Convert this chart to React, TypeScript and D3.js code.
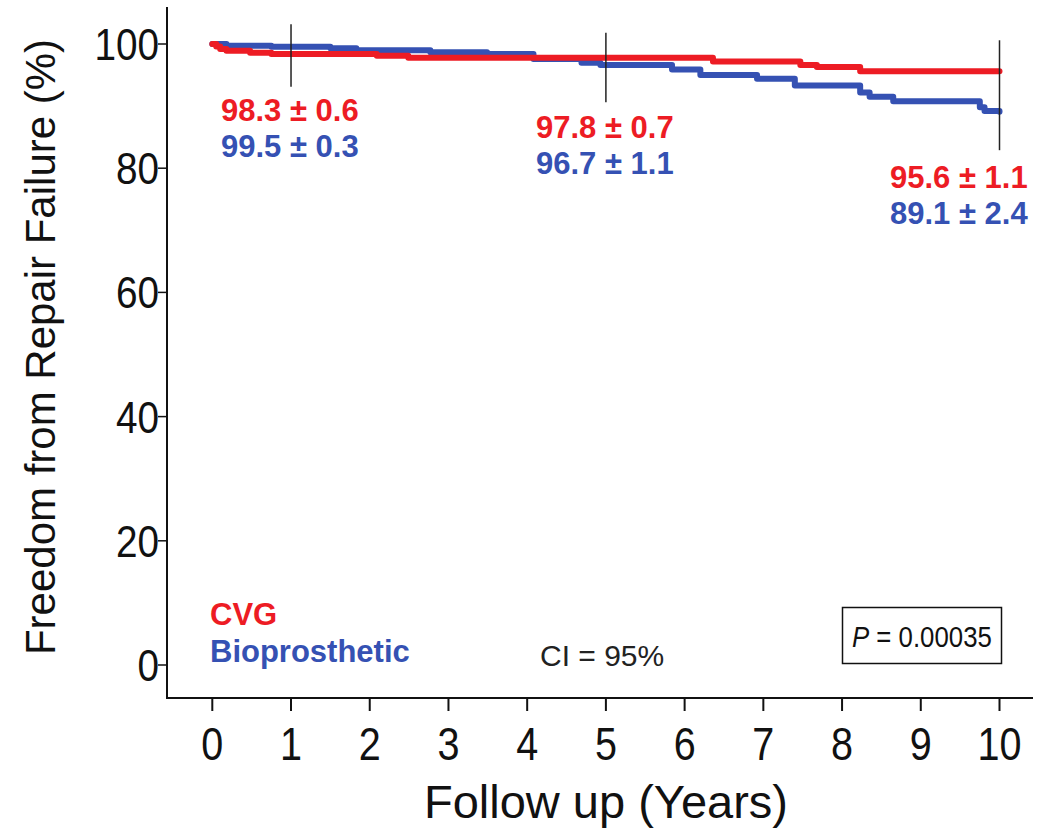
import * as d3 from "d3";

const W = 1038;
const H = 835;

// Kaplan-Meier steps: [years, freedom %]
const cvgTimes = [0, 0.05, 0.1, 0.18, 0.48, 0.75, 2.09, 2.49, 6.36, 7.47, 7.68, 8.23, 10];
const cvgValues = [100, 99.6, 99.2, 98.9, 98.6, 98.4, 98.1, 97.8, 97.2, 96.6, 96.3, 95.6, 95.6];

const bioTimes = [0, 0.18, 0.75, 1.5, 1.83, 2.77, 3.49, 4.08, 4.69, 4.93, 5.84, 6.2, 6.92, 7.4, 8.23, 8.35, 8.65, 9.75, 9.81, 10];
const bioValues = [100, 99.7, 99.55, 99.3, 99.0, 98.66, 98.4, 97.6, 97.0, 96.6, 95.9, 95.0, 94.4, 93.3, 92.2, 91.5, 90.8, 89.8, 89.2, 89.1];

// vertical interval bars at 1, 5 and 10 years: [year, low %, high %]
const barYears = [1, 5, 10];
const barLow = [93.1, 90.6, 82.9];
const barHigh = [103.2, 101.8, 100.6];

// annotations
const cvgLabels = ["98.3 ± 0.6", "97.8 ± 0.7", "95.6 ± 1.1"];
const bioLabels = ["99.5 ± 0.3", "96.7 ± 1.1", "89.1 ± 2.4"];

const xTicks = [0, 1, 2, 3, 4, 5, 6, 7, 8, 9, 10];
const yTicks = [0, 20, 40, 60, 80, 100];

const RED = "#ed1c24";
const BLUE = "#3551b3";
const FONT = "Liberation Sans, Arial, sans-serif";

export default function App() {
  const x = d3.scaleLinear().domain([0, 10]).range([212.3, 999.5]);
  const y = d3.scaleLinear().domain([0, 100]).range([665, 44]);

  const axisLeft = 167;
  const axisBottom = 698;

  const line = d3
    .line<[number, number]>()
    .x((d) => x(d[0]))
    .y((d) => y(d[1]))
    .curve(d3.curveStepAfter);

  const cvg = cvgTimes.map((t, i) => [t, cvgValues[i]] as [number, number]);
  const bio = bioTimes.map((t, i) => [t, bioValues[i]] as [number, number]);

  // label anchors (left x, baseline y of the red line)
  const labelPos = [
    { lx: 221, ly: 121 },
    { lx: 536, ly: 138 },
    { lx: 890, ly: 188 },
  ];

  return (
    <svg width={W} height={H} style={{ position: "absolute", left: 0, top: 0, background: "#fff" }} fontFamily={FONT}>
      {/* axes */}
      <line x1={axisLeft} x2={axisLeft} y1={7} y2={axisBottom} stroke="#111" strokeWidth={2} />
      <line x1={axisLeft - 1} x2={1033} y1={axisBottom} y2={axisBottom} stroke="#111" strokeWidth={2} />

      {yTicks.map((t) => (
        <g key={"y" + t}>
          <line x1={axisLeft - 9} x2={axisLeft} y1={y(t)} y2={y(t)} stroke="#111" strokeWidth={1.5} />
          <text transform={`translate(159,${y(t) + 16}) scale(0.88,1)`} textAnchor="end" fontSize={44} fill="#111">
            {t}
          </text>
        </g>
      ))}

      {xTicks.map((t) => (
        <g key={"x" + t}>
          <line x1={x(t)} x2={x(t)} y1={axisBottom} y2={711} stroke="#111" strokeWidth={2} />
          <text
            transform={`translate(${x(t)},760) scale(0.86,1)`}
            textAnchor="middle"
            fontSize={46}
            fill="#111"
          >
            {t}
          </text>
        </g>
      ))}

      <text x={606} y={818} textAnchor="middle" fontSize={47} fill="#111">
        Follow up (Years)
      </text>
      <text transform={`translate(55,347) rotate(-90)`} textAnchor="middle" fontSize={42} fill="#111">
        Freedom from Repair Failure (%)
      </text>

      {/* curves */}
      <path d={line(bio) ?? ""} fill="none" stroke={BLUE} strokeWidth={6} strokeLinejoin="round" strokeLinecap="round" />
      <path d={line(cvg) ?? ""} fill="none" stroke={RED} strokeWidth={6} strokeLinejoin="round" strokeLinecap="round" />

      {/* interval bars */}
      {barYears.map((t, i) => (
        <line key={"b" + t} x1={x(t)} x2={x(t)} y1={y(barHigh[i])} y2={y(barLow[i])} stroke="#222" strokeWidth={1.5} />
      ))}

      {/* survival annotations */}
      {labelPos.map((p, i) => (
        <g key={"l" + i} fontWeight="bold" fontSize={31}>
          <text x={p.lx} y={p.ly} fill={RED}>
            {cvgLabels[i]}
          </text>
          <text x={p.lx} y={p.ly + 36} fill={BLUE}>
            {bioLabels[i]}
          </text>
        </g>
      ))}

      {/* legend */}
      <text x={210} y={625} fontWeight="bold" fontSize={31} fill={RED}>
        CVG
      </text>
      <text x={210} y={662} fontWeight="bold" fontSize={31} fill={BLUE}>
        Bioprosthetic
      </text>
      <text x={540} y={666} fontSize={30} fill="#222">
        CI = 95%
      </text>

      {/* p value box */}
      <rect x={842.5} y={607.5} width={159} height={56} fill="#fff" stroke="#111" strokeWidth={1.5} />
      <text transform="translate(852,647) scale(0.86,1)" fontSize={30} fill="#111">
        <tspan fontStyle="italic">P</tspan>
        <tspan> = 0.00035</tspan>
      </text>
    </svg>
  );
}
